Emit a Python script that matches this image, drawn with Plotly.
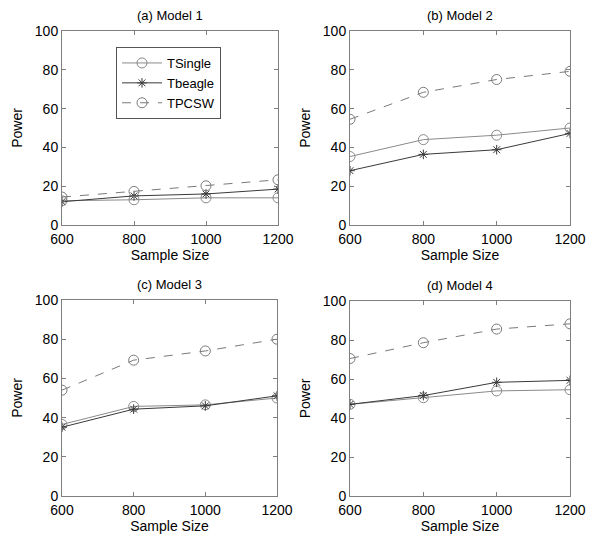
import plotly.graph_objects as go

sample_sizes = [600, 800, 1000, 1200]
panel_titles = ["(a) Model 1", "(b) Model 2", "(c) Model 3", "(d) Model 4"]
series_names = ["TSingle", "Tbeagle", "TPCSW"]

tsingle = [
    [12.5, 13, 14, 14],
    [35.3, 44, 46.3, 50],
    [36.5, 45.7, 46.5, 50],
    [47, 50.4, 53.9, 54.5],
]
tbeagle = [
    [12, 15, 16, 18.5],
    [28, 36.4, 38.8, 47.2],
    [35.1, 44.3, 46, 51.1],
    [47, 51.5, 58.3, 59.3],
]
tpcsw = [
    [14.4, 17.3, 20.2, 23.3],
    [54.5, 68.4, 75, 79.2],
    [54, 69.3, 74, 80],
    [70.5, 78.6, 85.6, 88.3],
]
y_ticks = [0, 20, 40, 60, 80, 100]

# page body has an 8px margin, so the figure is drawn 8px smaller and coordinates shifted
OFF = 8
W, H = 600 - OFF, 539 - OFF
# plot areas in page pixels (x0, x1, ytop, ybottom)
boxes = [(62, 278, 31, 225), (350, 570, 31, 225), (62, 277, 300, 496), (350, 570, 301, 496)]

FONT = "Liberation Sans, Arial, sans-serif"
fig = go.Figure()
styles = [
    dict(color="#8a8a8a", dash="solid", symbol="circle-open", size=10),
    dict(color="#3a3a3a", dash="solid", symbol="asterisk-open", size=8),
    dict(color="#7a7a7a", dash="dash", symbol="circle-open", size=10),
]
data_sets = [tsingle, tbeagle, tpcsw]
annotations = []
for i in range(4):
    xa = "x" if i == 0 else f"x{i+1}"
    ya = "y" if i == 0 else f"y{i+1}"
    for s, (name, st) in enumerate(zip(series_names, styles)):
        fig.add_trace(go.Scatter(
            x=sample_sizes, y=data_sets[s][i], name=name, xaxis=xa, yaxis=ya,
            mode="lines+markers", showlegend=(i == 0),
            line=dict(color=st["color"], width=1, dash=st["dash"]),
            marker=dict(symbol=st["symbol"], size=st["size"], color=st["color"],
                        line=dict(width=1, color=st["color"])),
        ))
    x0, x1, yt, yb = [v - OFF for v in boxes[i]]
    xd = [x0 / W, x1 / W]
    yd = [1 - yb / H, 1 - yt / H]
    axcommon = dict(showline=True, linecolor="#7f7f7f", linewidth=1, mirror="allticks",
                    ticks="inside", ticklen=4, tickcolor="#7f7f7f", showgrid=False,
                    zeroline=False, automargin=False,
                    tickfont=dict(family=FONT, size=14, color="black"))
    key = "" if i == 0 else str(i + 1)
    fig.update_layout(**{
        f"xaxis{key}": dict(domain=xd, range=[600, 1200], tickvals=sample_sizes,
                            anchor=ya, ticklabelstandoff=1,
                            title=dict(text="Sample Size", font=dict(family=FONT, size=14), standoff=0),
                            **axcommon),
        f"yaxis{key}": dict(domain=yd, range=[0, 100], tickvals=y_ticks, anchor=xa,
                            title=dict(text="Power", font=dict(family=FONT, size=14), standoff=8),
                            **axcommon),
    })
    annotations.append(dict(text=panel_titles[i], x=(x0 + x1) / 2 / W, y=1 - (yt - 6) / H,
                            xref="paper", yref="paper", xanchor="center", yanchor="bottom",
                            showarrow=False, font=dict(family=FONT, size=13, color="black")))

fig.update_layout(
    width=W, height=H, margin=dict(l=0, r=0, t=0, b=0, autoexpand=False),
    paper_bgcolor="white", plot_bgcolor="white",
    font=dict(family=FONT, size=14, color="black"),
    annotations=annotations,
    legend=dict(x=(116 - OFF) / W, y=1 - (47 - OFF) / H, xanchor="left", yanchor="top",
                bgcolor="white", bordercolor="#555555", borderwidth=1,
                font=dict(family=FONT, size=13), itemwidth=40, tracegroupgap=0),
)
fig.write_html("out.html")
